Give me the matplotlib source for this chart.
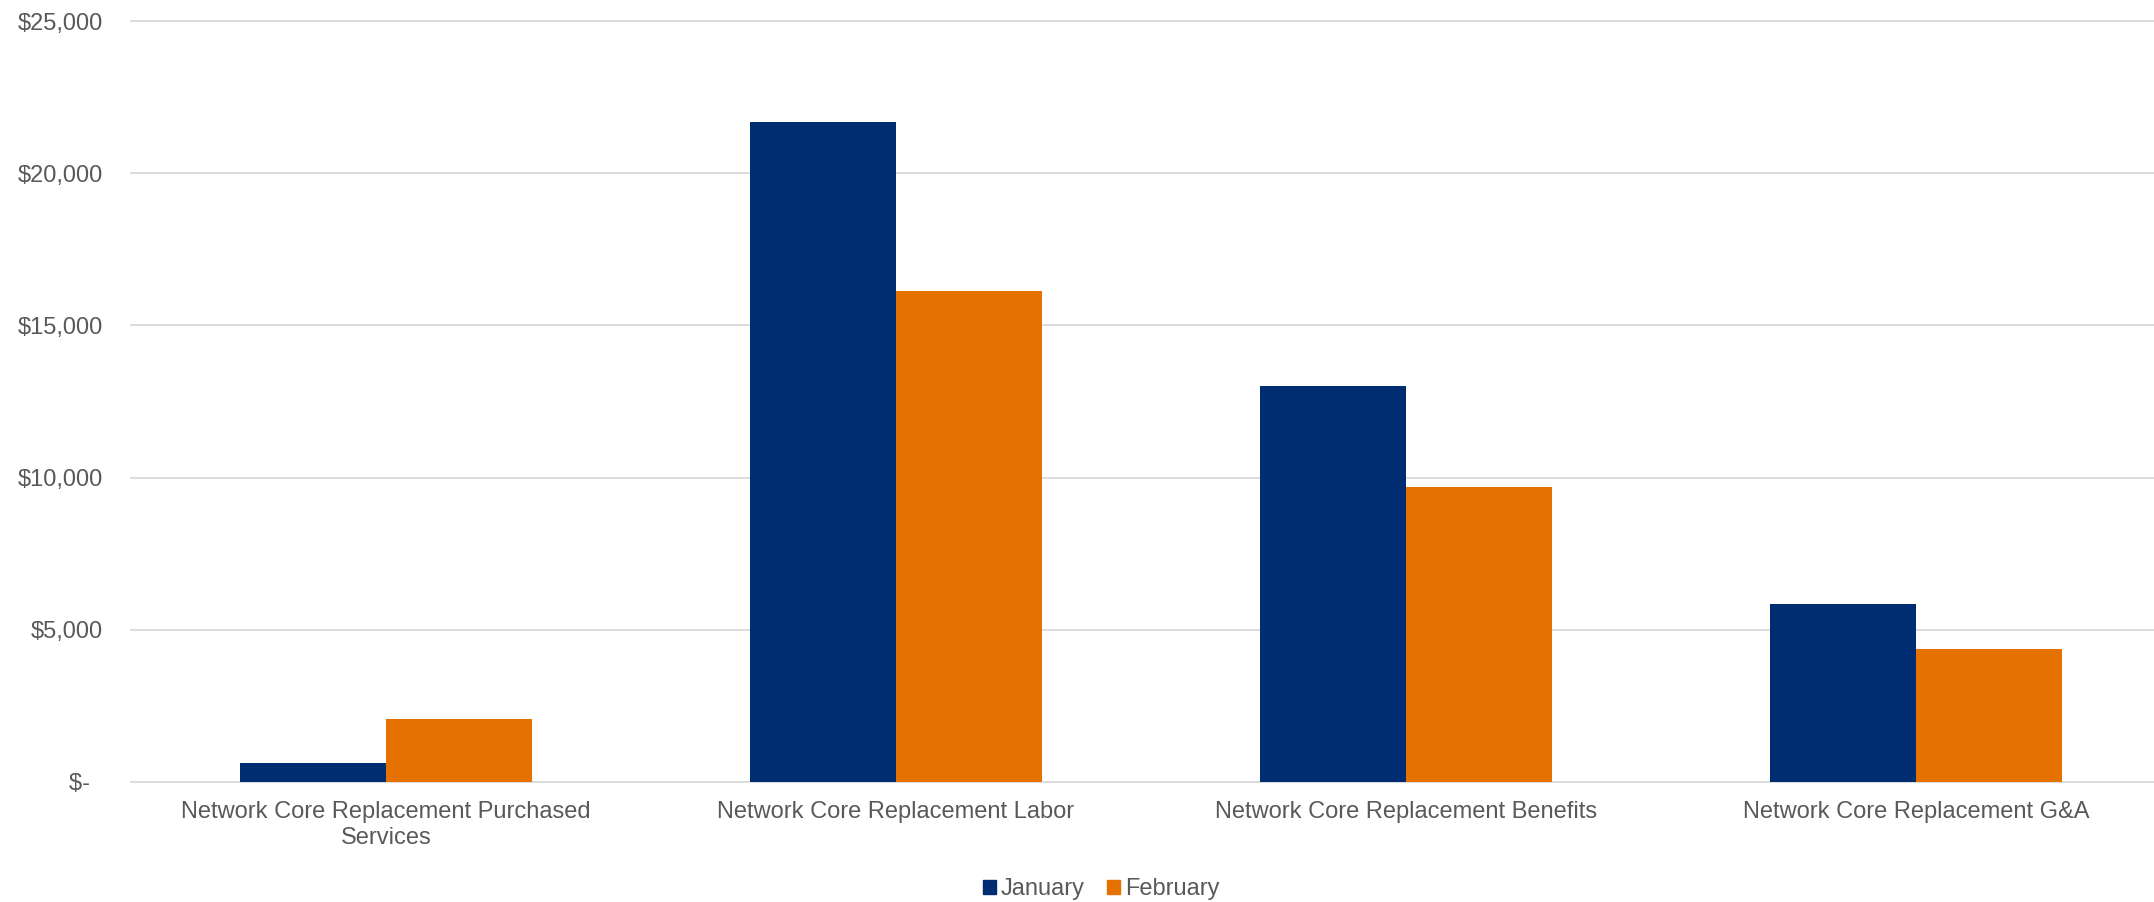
import matplotlib
matplotlib.use("Agg")
import matplotlib.pyplot as plt
from matplotlib.patches import Patch
import numpy as np

# ------------------------------
# Chart data
# ------------------------------
categories = [
    "Network Core Replacement Purchased\nServices",
    "Network Core Replacement Labor",
    "Network Core Replacement Benefits",
    "Network Core Replacement G&A",
]
series_names = ["January", "February"]
january = [620, 21700, 13010, 5840]
february = [2050, 16140, 9680, 4350]
y_ticks = [0, 5000, 10000, 15000, 20000, 25000]

NAVY = "#002D72"
ORANGE = "#E57200"
TEXT = "#595959"
GRID = "#D9D9D9"

plt.rcParams["font.family"] = ["Liberation Sans", "DejaVu Sans"]


def money(v):
    # accounting style, zero shows as a dash
    if v == 0:
        return "$-  "
    return f"${v:,.0f}"


# ------------------------------
# Figure
# ------------------------------
W, H = 2154, 902
fig = plt.figure(figsize=(W / 100, H / 100), dpi=100)
ax = fig.add_axes([131 / W, (H - 781.7) / H, 2040 / W, 760.5 / H])

x = np.arange(len(categories))
bw = 0.286
ax.bar(x - bw / 2, january, bw, color=NAVY, label=series_names[0], zorder=3)
ax.bar(x + bw / 2, february, bw, color=ORANGE, label=series_names[1], zorder=3)

ax.set_xlim(-0.5, len(categories) - 0.5)
ax.set_ylim(0, 25000)
ax.set_yticks(y_ticks)
ax.set_yticklabels([money(v) for v in y_ticks])
ax.set_xticks(x)
ax.set_xticklabels(categories, linespacing=1.2)

ax.tick_params(axis="both", length=0, labelsize=17, labelcolor=TEXT)
ax.tick_params(axis="y", pad=20)
ax.tick_params(axis="x", pad=14)

for s in ax.spines.values():
    s.set_visible(False)

ax.grid(axis="y", color=GRID, linewidth=1.3, zorder=0)
ax.set_axisbelow(True)
for gl in ax.get_ygridlines():
    gl.set_clip_on(False)

handles = [Patch(color=NAVY), Patch(color=ORANGE)]
fig.legend(handles, series_names, loc="center", bbox_to_anchor=(1101 / W, 13 / H),
           ncol=2, frameon=False, fontsize=17, labelcolor=TEXT,
           handlelength=0.55, handleheight=0.55, handletextpad=0.2,
           columnspacing=0.95, borderpad=0, borderaxespad=0)

fig.savefig("out.png", dpi=100)
